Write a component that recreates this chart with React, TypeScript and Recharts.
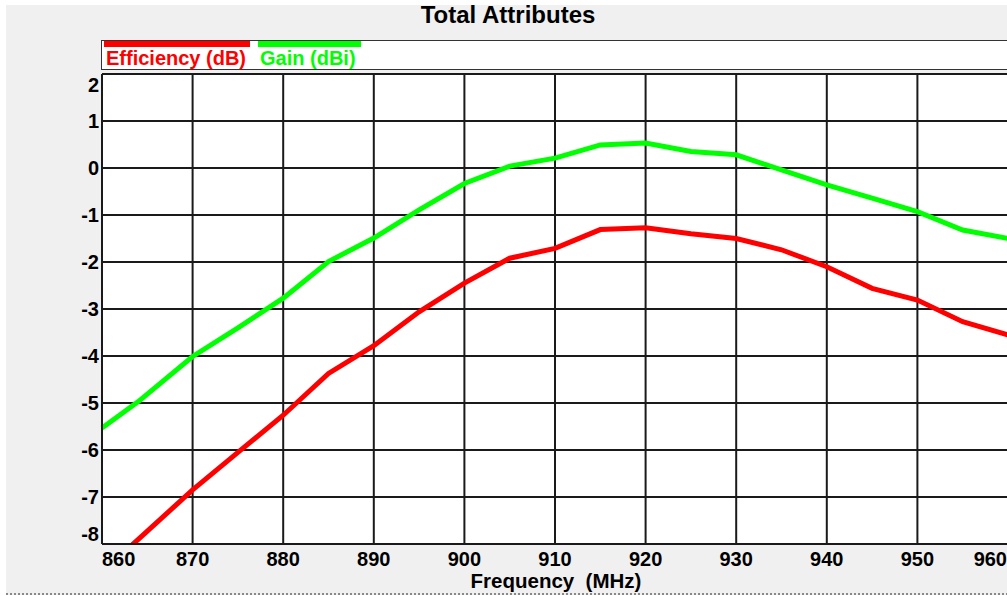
import { LineChart, Line, XAxis, YAxis, CartesianGrid } from 'recharts';

// frequency (MHz)
const FREQS = [860, 864, 870, 875, 880, 885, 890, 895, 900, 905, 910, 915, 920, 925, 930, 935, 940, 945, 950, 955, 960];
const EFFICIENCY = [-8.6, -7.9, -6.85, -6.05, -5.26, -4.37, -3.78, -3.06, -2.45, -1.92, -1.71, -1.31, -1.27, -1.4, -1.5, -1.74, -2.1, -2.56, -2.81, -3.27, -3.55];
const GAIN = [-5.53, -4.97, -4.01, -3.4, -2.77, -1.99, -1.49, -0.89, -0.33, 0.04, 0.21, 0.49, 0.53, 0.35, 0.28, -0.04, -0.36, -0.64, -0.93, -1.32, -1.5];

const X_TICKS = [860, 870, 880, 890, 900, 910, 920, 930, 940, 950, 960];
const Y_TICKS = [-8, -7, -6, -5, -4, -3, -2, -1, 0, 1, 2];

const SERIES = [
  { key: 'efficiency', name: 'Efficiency (dB)', color: '#ff0000', barWidth: 146 },
  { key: 'gain', name: 'Gain (dBi)', color: '#00ff00', barWidth: 103 },
];

const data = FREQS.map((f, i) => ({ freq: f, efficiency: EFFICIENCY[i], gain: GAIN[i] }));

const FONT = '"Liberation Sans", Arial, sans-serif';

const XTick = (props: any) => {
  const { x, payload } = props;
  let anchor = 'middle';
  let tx = x;
  if (x - 17 < 102) { anchor = 'start'; tx = 102; }
  if (x + 17 > 1007) { anchor = 'end'; tx = 1007; }
  return (
    <text x={tx} y={566} textAnchor={anchor} fontSize={20} fontWeight="bold" fill="#000" fontFamily={FONT}>
      {payload.value}
    </text>
  );
};

const YTick = (props: any) => {
  const { y, payload } = props;
  let ty = y + 7;
  if (ty < 92) ty = 92;
  if (ty > 541) ty = 541;
  return (
    <text x={99} y={ty} textAnchor="end" fontSize={20} fontWeight="bold" fill="#000" fontFamily={FONT}>
      {payload.value}
    </text>
  );
};

export default function App() {
  return (
    <div style={{ position: 'fixed', left: 0, top: 0, width: 1007, height: 596, overflow: 'hidden', background: '#fff', fontFamily: FONT }}>
      <div style={{ position: 'absolute', left: 6, top: 5, width: 1010, height: 588, background: '#f0f0f0', borderBottom: '2px dotted #888' }} />
      <div style={{ position: 'absolute', left: 6, width: 1004, top: 1, textAlign: 'center', fontSize: 24, fontWeight: 'bold', color: '#000' }}>
        Total Attributes
      </div>
      {/* legend box */}
      <div style={{ position: 'absolute', left: 101, top: 40, width: 920, height: 28, background: '#fff', border: '1.5px solid #333' }}>
        {SERIES.map((s, i) => (
          <div key={s.key} style={{ position: 'absolute', top: 0, left: i === 0 ? 2 : 156 }}>
            <div style={{ width: s.barWidth, height: 6, background: s.color }} />
            <div style={{ color: s.color, fontSize: 20, fontWeight: 'bold', lineHeight: '22px', marginLeft: 2, whiteSpace: 'pre' }}>{s.name}</div>
          </div>
        ))}
      </div>
      <div style={{ position: 'absolute', left: 0, top: 0 }}>
        <LineChart width={1016} height={596} data={data} margin={{ top: 74, right: 8, bottom: 12, left: 42 }}>
          <CartesianGrid stroke="#1a1a1a" strokeWidth={2} fill="#fff" verticalValues={X_TICKS} horizontalValues={Y_TICKS} />
          <XAxis
            dataKey="freq"
            type="number"
            domain={[860, 960]}
            ticks={X_TICKS}
            height={40}
            tickLine={false}
            axisLine={{ stroke: '#1a1a1a', strokeWidth: 2 }}
            tick={<XTick />}
            interval={0}
          />
          <YAxis
            type="number"
            domain={[-8, 2]}
            ticks={Y_TICKS}
            allowDataOverflow
            width={60}
            tickLine={false}
            axisLine={{ stroke: '#1a1a1a', strokeWidth: 2 }}
            tick={<YTick />}
            interval={0}
          />
          {SERIES.map((s) => (
            <Line
              key={s.key}
              type="linear"
              dataKey={s.key}
              name={s.name}
              stroke={s.color}
              strokeWidth={5}
              dot={false}
              isAnimationActive={false}
            />
          ))}
        </LineChart>
      </div>
      <div style={{ position: 'absolute', left: 446, width: 220, top: 569, textAlign: 'center', fontSize: 20.5, fontWeight: 'bold', color: '#000', whiteSpace: 'pre' }}>
        Frequency  (MHz)
      </div>
    </div>
  );
}
